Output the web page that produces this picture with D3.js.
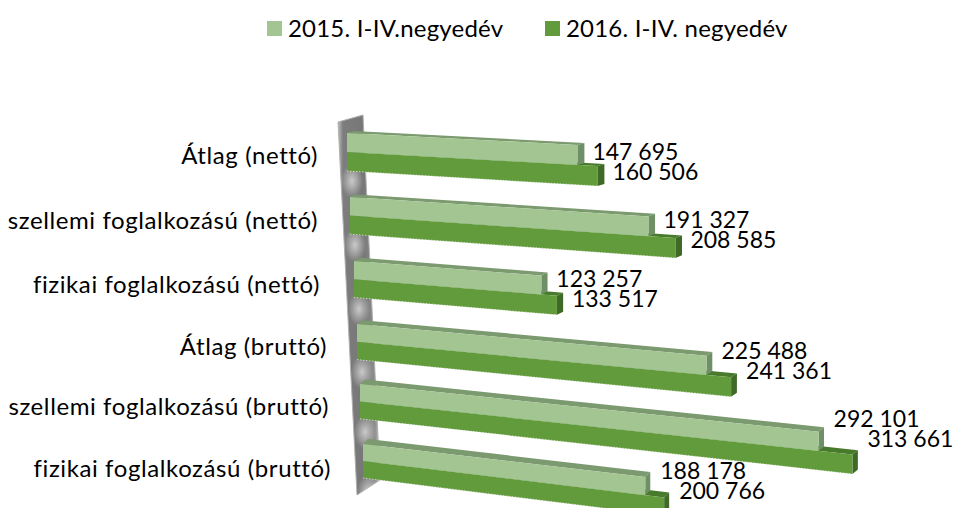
<!DOCTYPE html>
<html>
<head>
<meta charset="utf-8">
<script src="https://cdn.jsdelivr.net/npm/d3@7"></script>
<style>
  html, body { margin: 0; background: #fff; }
  text { font-family: Lato, "Open Sans", sans-serif; fill: #000; }
</style>
</head>
<body>
<svg id="chart" width="957" height="508"></svg>
<script>
const categories = ["Átlag (nettó)", "szellemi foglalkozású (nettó)", "fizikai foglalkozású (nettó)",
  "Átlag (bruttó)", "szellemi foglalkozású (bruttó)", "fizikai foglalkozású (bruttó)"]
const series2015 = [147695, 191327, 123257, 225488, 292101, 188178]
const series2016 = [160506, 208585, 133517, 241361, 313661, 200766]
const seriesNames = ["2015. I-IV.negyedév", "2016. I-IV. negyedév"]

// the fake 3d view: every row has its own origin, stretch and tilt
const rows = d3.range(categories.length)
const rowScale = (range) => d3.scaleLinear().domain(rows).range(range)
const left = rowScale([347, 350, 354, 357, 360, 363])
const top0 = rowScale([133, 197, 261, 324, 384, 444])
const stretch = rowScale([.00156, .00156, .00152, .00155, .00157, .0015])
const slope = d3.scaleLinear().domain([0, 5]).range([.052, .117])
const thick = d3.scaleLinear().domain([0, 5]).range([19, 17])
const depthX = d3.scaleLinear().domain([0, 5]).range([7, 5])
const depthY = d3.scaleLinear().domain([0, 5]).range([2, 5])
const labelY = rowScale([152, 220, 279, 351, 419, 471])
const catY = rowScale([155, 220, 284, 346, 406, 468])
const catEnd = rowScale([318, 318, 320, 327, 329, 331])

const xOf = (i, v) => d3.scaleLinear().domain([0, 300000])
  .range([left(i), left(i) + stretch(i) * 300000])(v)
const yOf = (i, band, x) => top0(i) + slope(i) * (x - left(i)) + band * thick(i) + band * (x - left(i)) * .004

const colors = [
  { front: "#a2c591", top: "#7c9a6f", cap: "#6f8f66" },
  { front: "#629b3b", top: "#487a2c", cap: "#3f6926" }
]

const svg = d3.select("#chart")
const defs = svg.append("defs")
const glow = defs.append("radialGradient").attr("id", "glow")
glow.append("stop").attr("offset", "0%").attr("stop-color", "#d8d8d8").attr("stop-opacity", .85)
glow.append("stop").attr("offset", "100%").attr("stop-color", "#d8d8d8").attr("stop-opacity", 0)
const wallFill = defs.append("linearGradient").attr("id", "wallFill")
wallFill.selectAll("stop")
  .data([[0, "#bdbdbd"], [.12, "#7d7d7d"], [.6, "#777"], [.88, "#8c8c8c"], [1, "#c4c4c4"]])
  .join("stop").attr("offset", d => d[0]).attr("stop-color", d => d[1])

// back wall
const wallPts = [[338, 122], [363, 115], [380, 480], [357, 495]]
defs.append("clipPath").attr("id", "wallClip").append("polygon").attr("points", wallPts.join(" "))
svg.append("polygon").attr("points", wallPts.join(" "))
  .attr("fill", "url(#wallFill)").attr("stroke", "#b0b0b0").attr("stroke-width", 1)
svg.append("g").attr("clip-path", "url(#wallClip)").selectAll("ellipse")
  .data(rows)
  .join("ellipse")
  .attr("cx", d => left(d) + 5)
  .attr("cy", d => top0(d) + 48)
  .attr("rx", 11).attr("ry", 17)
  .attr("fill", "url(#glow)")

const polygon = (g, pts, fill) => g.append("polygon").attr("points", pts.join(" ")).attr("fill", fill)

function drawBar(g, i, band, v) {
  const c = colors[band]
  const x0 = left(i), x1 = xOf(i, v)
  const dx = depthX(i), dy = depthY(i)
  const a = [x0, yOf(i, band, x0)], b = [x1, yOf(i, band, x1)]
  const d = [x0, yOf(i, band + 1, x0)], e = [x1, yOf(i, band + 1, x1)]
  polygon(g, [a, [x0 + dx, a[1] - dy], [x1 + dx, b[1] - dy], b], c.top)
  polygon(g, [b, [x1 + dx, b[1] - dy], [x1 + dx, e[1] - dy], e], c.cap)
  polygon(g, [a, b, e, d], c.front)
  // jagged lower rim of the 3d bars
  if (band == 1) {
    g.append("line").attr("x1", d[0]).attr("y1", d[1]).attr("x2", e[0]).attr("y2", e[1])
      .attr("stroke", "#fff").attr("stroke-width", 1).attr("stroke-dasharray", "1.5 1.5").attr("opacity", .6)
  }
}

const bars = svg.append("g")
rows.forEach(i => {
  const g = bars.append("g")
  drawBar(g, i, 1, series2016[i])
  drawBar(g, i, 0, series2015[i])
})

const fmt = v => d3.format(",")(v).replace(",", " ")
const valueLabels = svg.append("g").attr("font-size", 23)
rows.forEach(i => {
  [series2015[i], series2016[i]].forEach((v, band) => {
    valueLabels.append("text")
      .attr("x", xOf(i, v) + 15)
      .attr("y", labelY(i) + band * 20)
      .attr("dy", "0.36em")
      .text(fmt(v))
  })
})

svg.append("g").attr("font-size", 24).attr("letter-spacing", .6).selectAll("text")
  .data(categories)
  .join("text")
  .attr("x", (d, i) => catEnd(i))
  .attr("y", (d, i) => catY(i))
  .attr("dy", "0.36em")
  .attr("text-anchor", "end")
  .text(d => d)

// legend
const legend = svg.append("g").selectAll("g")
  .data(seriesNames)
  .join("g")
  .attr("transform", (d, i) => `translate(${[267, 545][i]},21)`)
legend.append("rect").attr("width", 15).attr("height", 15).attr("fill", (d, i) => colors[i].front)
legend.append("text").attr("x", 21).attr("y", 7).attr("dy", "0.36em").attr("font-size", 24).attr("letter-spacing", .2).text(d => d)
</script>
</body>
</html>
